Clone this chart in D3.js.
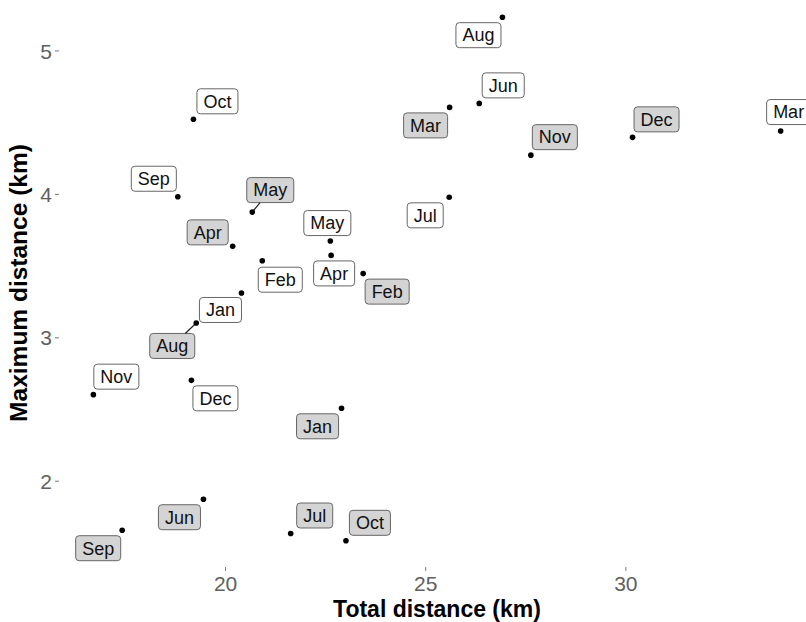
<!DOCTYPE html>
<html>
<meta charset="utf-8">
<body style="margin:0;background:#fff">
<script src="https://d3js.org/d3.v7.min.js"></script>
<div id="my_dataviz"></div>
<script>

// months, one label per point
var months = ["Jan","Feb","Mar","Apr","May","Jun","Jul","Aug","Sep","Oct","Nov","Dec"]

// year shown with white labels
var totalA = [20.41, 20.93, 33.88, 22.65, 22.63, 26.35, 25.60, 26.93, 18.82, 19.21, 16.71, 19.16]
var maxA   = [3.309, 3.534, 4.438, 3.571, 3.671, 4.631, 3.976, 5.232, 3.980, 4.520, 2.600, 2.700]

// year shown with grey labels
var totalB = [22.91, 23.45, 25.61, 20.19, 20.68, 19.46, 21.64, 19.28, 17.43, 23.02, 27.64, 30.18]
var maxB   = [2.505, 3.444, 4.603, 3.634, 3.873, 1.871, 1.632, 3.100, 1.655, 1.581, 4.270, 4.394]

var xTicks = [20, 25, 30]
var yTicks = [2, 3, 4, 5]

// where the repelled labels ended up, relative to their point (px)
var nudgeA = [[-21,17],[18,19],[8,-19],[3,18],[-3,-18],[24,-18],[-24,18],[-24,18],[-24,-18],[24,-18],[23,-18],[24,18]]
var nudgeB = [[-24,18],[24,18],[-24,18],[-25,-14],[18,-22],[-24,18],[24,-18],[-24,23],[-24,18],[24,-18],[24,-18],[24,-18]]

var width = 806, height = 622
var panel = {left: 59, right: 815, top: -9, bottom: 567}

var svg = d3.select("#my_dataviz")
  .append("svg")
    .attr("width", width)
    .attr("height", height)
    .style("font-family", "'Liberation Sans', Arial, sans-serif")

var data = []
months.forEach(function(m, i) {
  data.push({month: m, total: totalA[i], max: maxA[i], fill: "#ffffff", nudge: nudgeA[i]})
  data.push({month: m, total: totalB[i], max: maxB[i], fill: "#d4d4d4", nudge: nudgeB[i]})
})

// ggplot style 5% expansion
function expand(ext) {
  var pad = (ext[1] - ext[0]) * 0.05
  return [ext[0] - pad, ext[1] + pad]
}

var x = d3.scaleLinear()
  .domain(expand(d3.extent(data, function(d) { return d.total })))
  .range([panel.left, panel.right])

var y = d3.scaleLinear()
  .domain(expand(d3.extent(data, function(d) { return d.max })))
  .range([panel.bottom, panel.top])

// axes: no line, short grey ticks, grey labels
var xAxis = svg.append("g")
  .attr("transform", "translate(0," + panel.bottom + ")")
  .call(d3.axisBottom(x).tickValues(xTicks).tickFormat(d3.format("d")).tickSize(4).tickPadding(5))
xAxis.select(".domain").remove()
var yAxis = svg.append("g")
  .attr("transform", "translate(" + panel.left + ",0)")
  .call(d3.axisLeft(y).tickValues(yTicks).tickFormat(d3.format("d")).tickSize(4).tickPadding(3))
yAxis.select(".domain").remove()

svg.selectAll(".tick line").attr("stroke", "#777").attr("stroke-width", 1)
svg.selectAll(".tick text")
  .attr("fill", "#606060")
  .style("font-size", "21px")
  .style("font-family", "'Liberation Sans', Arial, sans-serif")
xAxis.selectAll(".tick text").attr("dy", "0.72em")
yAxis.selectAll(".tick text").attr("dy", "0.36em")

// axis titles
svg.append("text")
  .attr("x", (panel.left + panel.right) / 2)
  .attr("y", 617)
  .attr("text-anchor", "middle")
  .style("font-size", "23px")
  .style("font-weight", "bold")
  .text("Total distance (km)")

svg.append("text")
  .attr("transform", "translate(27,283) rotate(-90)")
  .attr("text-anchor", "middle")
  .style("font-size", "24.5px")
  .style("font-weight", "bold")
  .text("Maximum distance (km)")

var labels = svg.append("g")
var segs = svg.append("g")

data.forEach(function(d) {
  var px = x(d.total), py = y(d.max)
  var cx = px + d.nudge[0], cy = py + d.nudge[1]
  var g = labels.append("g")
  var t = g.append("text")
    .attr("x", cx)
    .attr("y", cy)
    .attr("dy", "0.35em")
    .attr("text-anchor", "middle")
    .style("font-size", "18px")
    .attr("fill", "#111")
    .text(d.month)
  var w = t.node().getComputedTextLength() + 13, h = 25
  g.insert("rect", "text")
    .attr("x", cx - w / 2)
    .attr("y", cy - h / 2)
    .attr("width", w)
    .attr("height", h)
    .attr("rx", 3.5)
    .attr("fill", d.fill)
    .attr("stroke", "#666")
    .attr("stroke-width", 1)

  // segment from point to box edge, only when it is long enough to see
  var dx = cx - px, dy = cy - py
  var tx = dx !== 0 ? 1 - (w / 2) / Math.abs(dx) : -Infinity
  var ty = dy !== 0 ? 1 - (h / 2) / Math.abs(dy) : -Infinity
  var tt = Math.max(0, tx, ty)
  var ex = px + dx * tt, ey = py + dy * tt
  if (Math.hypot(ex - px, ey - py) > 11) {
    segs.append("line")
      .attr("x1", px).attr("y1", py)
      .attr("x2", ex).attr("y2", ey)
      .attr("stroke", "#222")
      .attr("stroke-width", 1.2)
  }
})

svg.append("g")
  .selectAll("circle")
  .data(data)
  .enter()
  .append("circle")
    .attr("cx", function(d) { return x(d.total) })
    .attr("cy", function(d) { return y(d.max) })
    .attr("r", 2.8)
    .attr("fill", "#000")

</script>
</body>
</html>
